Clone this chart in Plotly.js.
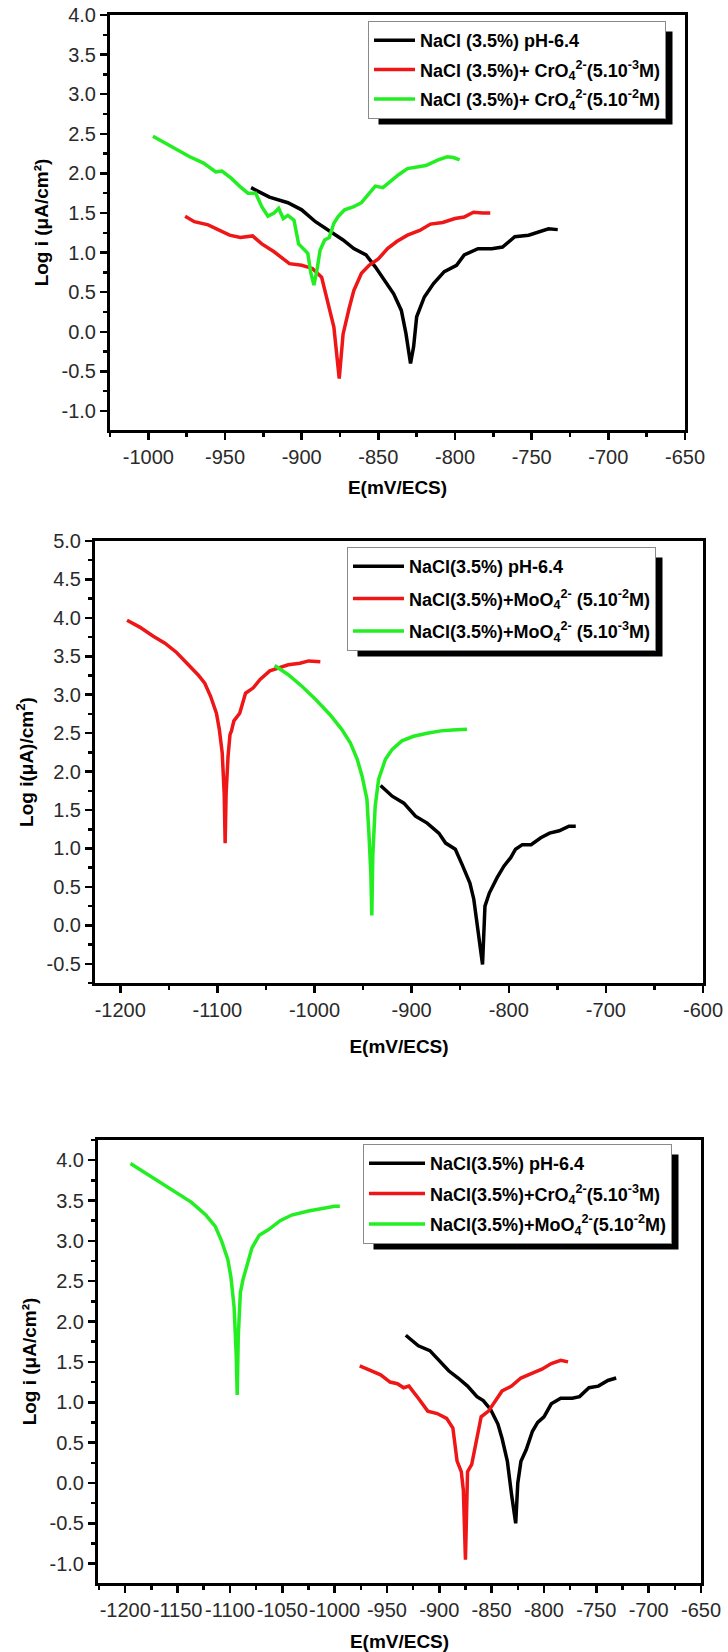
<!DOCTYPE html>
<html>
<head>
<meta charset="utf-8">
<script src="https://cdn.plot.ly/plotly-3.0.1.min.js"></script>
<style>
html,body{margin:0;padding:0;background:#fff;}
#chart{width:728px;height:1652px;}
</style>
</head>
<body>
<div id="chart"></div>
<script>
// ---------- DATA ----------
// Chart 1 : NaCl + chromate
const c1BlackE = [-933,-921,-909,-900,-891,-882,-873,-866,-858,-852,-846,-840,-835,-832,-829,-827,-825,-820,-814,-807,-799,-794,-785,-776,-769,-761,-752,-745,-739,-733];
const c1BlackL = [1.82,1.70,1.63,1.54,1.39,1.28,1.16,1.05,0.97,0.82,0.65,0.48,0.27,-0.02,-0.40,-0.19,0.19,0.44,0.61,0.76,0.84,0.97,1.05,1.05,1.07,1.20,1.22,1.26,1.30,1.29];
const c1RedE = [-976,-970,-961,-953,-947,-940,-932,-926,-918,-912,-908,-900,-893,-887,-882,-879,-875.5,-873,-869,-866,-861,-856,-850,-844,-838,-831,-823,-816,-808,-800,-794,-788,-782,-777];
const c1RedL = [1.46,1.39,1.35,1.28,1.22,1.19,1.21,1.11,1.01,0.92,0.86,0.84,0.80,0.69,0.31,0.06,-0.59,-0.03,0.30,0.52,0.74,0.84,0.92,1.05,1.14,1.22,1.28,1.36,1.38,1.43,1.45,1.51,1.50,1.50];
const c1GreenE = [-997,-989,-980,-973,-964,-956,-952,-946,-940,-935,-930,-926,-922,-918,-915,-912,-909,-905,-902,-899,-896,-894,-892,-890,-888,-885,-882,-879,-876,-872,-866,-861,-856,-852,-847,-843,-837,-831,-825,-819,-811,-805,-801,-797];
const c1GreenL = [2.47,2.38,2.29,2.21,2.13,2.02,2.03,1.94,1.83,1.75,1.75,1.58,1.46,1.50,1.56,1.43,1.47,1.41,1.11,1.05,0.99,0.74,0.59,0.78,1.03,1.16,1.19,1.37,1.46,1.54,1.58,1.63,1.75,1.84,1.82,1.89,1.98,2.06,2.08,2.10,2.17,2.21,2.20,2.17];

// Chart 2 : NaCl + molybdate
const c2BlackE = [-932,-920,-908,-896,-884,-872,-865,-855,-848,-840,-836,-832,-827,-824.5,-820,-812,-805,-798,-793,-786,-777,-767,-758,-748,-738,-731];
const c2BlackL = [1.82,1.68,1.59,1.42,1.33,1.20,1.07,0.99,0.79,0.55,0.34,-0.05,-0.51,0.25,0.42,0.62,0.77,0.88,0.99,1.05,1.05,1.14,1.20,1.23,1.29,1.29];
const c2RedE = [-1193,-1180,-1166,-1154,-1142,-1130,-1120,-1113,-1107,-1101,-1098,-1095,-1093,-1092,-1091,-1089,-1087,-1085.5,-1083,-1077,-1071,-1063,-1056,-1046,-1037,-1027,-1015,-1006,-994];
const c2RedL = [3.97,3.88,3.76,3.67,3.55,3.39,3.26,3.15,2.98,2.76,2.55,2.24,1.72,1.07,1.72,2.20,2.48,2.53,2.66,2.76,3.02,3.09,3.20,3.31,3.35,3.39,3.41,3.44,3.43];
const c2GreenE = [-1041,-1027,-1013,-999,-984,-972,-963,-956,-951,-946,-944,-942,-941,-940,-937.5,-934,-927,-920,-910,-898,-884,-870,-858,-843];
const c2GreenL = [3.38,3.26,3.11,2.94,2.74,2.55,2.37,2.16,1.94,1.64,1.20,0.68,0.13,0.90,1.55,1.90,2.16,2.29,2.40,2.46,2.50,2.53,2.54,2.55];

// Chart 3 : comparison
const c3BlackE = [-932,-920,-909,-900,-891,-882,-873,-864,-858,-851,-844,-840,-835,-831,-827,-825,-822,-817,-811,-806,-800,-793,-784,-773,-766,-757,-748,-739,-731];
const c3BlackL = [1.83,1.70,1.64,1.52,1.39,1.30,1.20,1.07,1.02,0.91,0.73,0.55,0.27,-0.14,-0.50,0.00,0.27,0.41,0.64,0.75,0.82,0.98,1.05,1.05,1.07,1.18,1.20,1.27,1.30];
const c3RedE = [-976,-965,-956,-947,-940,-934,-929,-920,-911,-902,-893,-887,-883,-879,-877,-875,-873,-869,-865.5,-860,-853,-847,-840,-831,-822,-811,-802,-793,-784,-777];
const c3RedL = [1.45,1.39,1.34,1.25,1.23,1.18,1.20,1.05,0.89,0.86,0.80,0.68,0.27,0.14,-0.09,-0.95,0.14,0.23,0.45,0.82,0.89,1.00,1.14,1.20,1.30,1.36,1.41,1.48,1.52,1.50];
const c3GreenE = [-1195,-1177,-1163,-1150,-1137,-1123,-1114,-1108,-1102,-1099,-1096,-1094,-1093,-1092,-1090,-1087.5,-1084,-1079,-1072,-1063,-1052,-1041,-1025,-1012,-1000,-995];
const c3GreenL = [3.96,3.81,3.70,3.59,3.48,3.32,3.18,3.00,2.77,2.55,2.18,1.59,1.09,1.82,2.36,2.52,2.68,2.91,3.07,3.14,3.25,3.32,3.37,3.40,3.43,3.43];

// Legend names
const c1Names = ['NaCl (3.5%) pH-6.4',
  'NaCl (3.5%)+ CrO<sub>4</sub><sup>2-</sup>(5.10<sup>-3</sup>M)',
  'NaCl (3.5%)+ CrO<sub>4</sub><sup>2-</sup>(5.10<sup>-2</sup>M)'];
const c2Names = ['NaCl(3.5%) pH-6.4',
  'NaCl(3.5%)+MoO<sub>4</sub><sup>2-</sup> (5.10<sup>-2</sup>M)',
  'NaCl(3.5%)+MoO<sub>4</sub><sup>2-</sup> (5.10<sup>-3</sup>M)'];
const c3Names = ['NaCl(3.5%) pH-6.4',
  'NaCl(3.5%)+CrO<sub>4</sub><sup>2-</sup>(5.10<sup>-3</sup>M)',
  'NaCl(3.5%)+MoO<sub>4</sub><sup>2-</sup>(5.10<sup>-2</sup>M)'];

// Axis titles
const xTitle = 'E(mV/ECS)';
const y1Title = 'Log i (μA/cm²)';
const y2Title = 'Log i(μA)/cm<sup>2</sup>)';
const y3Title = 'Log i (μA/cm²)';

// Tick labels
const x1Ticks = [-1000,-950,-900,-850,-800,-750,-700,-650];
const x1Labels = ['-1000','-950','-900','-850','-800','-750','-700','-650'];
const y1Ticks = [-1.0,-0.5,0.0,0.5,1.0,1.5,2.0,2.5,3.0,3.5,4.0];
const y1Labels = ['-1.0','-0.5','0.0','0.5','1.0','1.5','2.0','2.5','3.0','3.5','4.0'];
const x2Ticks = [-1200,-1100,-1000,-900,-800,-700,-600];
const x2Labels = ['-1200','-1100','-1000','-900','-800','-700','-600'];
const y2Ticks = [-0.5,0.0,0.5,1.0,1.5,2.0,2.5,3.0,3.5,4.0,4.5,5.0];
const y2Labels = ['-0.5','0.0','0.5','1.0','1.5','2.0','2.5','3.0','3.5','4.0','4.5','5.0'];
const x3Ticks = [-1200,-1150,-1100,-1050,-1000,-950,-900,-850,-800,-750,-700,-650];
const x3Labels = ['-1200','-1150','-1100','-1050','-1000','-950','-900','-850','-800','-750','-700','-650'];
const y3Ticks = [-1.0,-0.5,0.0,0.5,1.0,1.5,2.0,2.5,3.0,3.5,4.0];
const y3Labels = ['-1.0','-0.5','0.0','0.5','1.0','1.5','2.0','2.5','3.0','3.5','4.0'];

// ---------- STYLE ----------
const W = 728, H = 1652;
const BLACK = '#000000', RED = '#ee1616', GREEN = '#22ee22';
const FONT = 'Liberation Sans, Arial, sans-serif';

function tr(x, y, name, color, xa, ya, leg, grp) {
  return {x: x, y: y, name: name, type: 'scatter', mode: 'lines',
    line: {color: color, width: 3.5}, xaxis: xa, yaxis: ya,
    legend: leg, legendgroup: grp, showlegend: true, hoverinfo: 'skip'};
}

const data = [
  tr(c1BlackE, c1BlackL, c1Names[0], BLACK, 'x', 'y', 'legend', 'a1'),
  tr(c1RedE, c1RedL, c1Names[1], RED, 'x', 'y', 'legend', 'a2'),
  tr(c1GreenE, c1GreenL, c1Names[2], GREEN, 'x', 'y', 'legend', 'a3'),
  tr(c2BlackE, c2BlackL, c2Names[0], BLACK, 'x2', 'y2', 'legend2', 'b1'),
  tr(c2RedE, c2RedL, c2Names[1], RED, 'x2', 'y2', 'legend2', 'b2'),
  tr(c2GreenE, c2GreenL, c2Names[2], GREEN, 'x2', 'y2', 'legend2', 'b3'),
  tr(c3BlackE, c3BlackL, c3Names[0], BLACK, 'x3', 'y3', 'legend3', 'c1'),
  tr(c3RedE, c3RedL, c3Names[1], RED, 'x3', 'y3', 'legend3', 'c2'),
  tr(c3GreenE, c3GreenL, c3Names[2], GREEN, 'x3', 'y3', 'legend3', 'c3')
];

function px(a, b) { return [a / W, b / W]; }
function py(top, bottom) { return [1 - bottom / H, 1 - top / H]; }

function axis(opts) {
  return {
    domain: opts.domain, range: opts.range, anchor: opts.anchor,
    tickmode: 'array', tickvals: opts.tickvals, ticktext: opts.ticktext, tickangle: 0,
    ticks: 'outside', ticklen: 7, tickwidth: 2.5, tickcolor: BLACK,
    showline: true, linewidth: 3, linecolor: BLACK, mirror: true,
    showgrid: false, zeroline: false, fixedrange: true,
    tickfont: {family: FONT, size: 20, color: '#2a2a2a'},
    minor: {tickmode: 'linear', tick0: 0, dtick: opts.minor, ticklen: 4, tickwidth: 2.5, tickcolor: BLACK, ticks: 'outside', showgrid: false},
    title: {text: opts.title, font: {family: FONT, size: 19, color: BLACK, weight: 'bold'}, standoff: opts.standoff}
  };
}

function legendCfg(x, y, iw, gap) {
  return {x: x / W, y: 1 - y / H, xanchor: 'left', yanchor: 'top',
    bgcolor: '#ffffff', bordercolor: '#8a8a8a', borderwidth: 1,
    font: {family: FONT, size: 18, color: BLACK, weight: 'bold'},
    tracegroupgap: gap, itemwidth: iw, traceorder: 'grouped'};
}

const layout = {
  width: W, height: H,
  margin: {l: 0, r: 0, t: 0, b: 0},
  paper_bgcolor: '#ffffff', plot_bgcolor: '#ffffff',
  showlegend: true,
  xaxis: axis({domain: px(110, 685), range: [-1025, -650], anchor: 'y', tickvals: x1Ticks, ticktext: x1Labels, minor: 25, title: xTitle, standoff: 14}),
  yaxis: axis({domain: py(15, 430), range: [-1.24, 4.0], anchor: 'x', tickvals: y1Ticks, ticktext: y1Labels, minor: 0.25, title: y1Title, standoff: 8}),
  xaxis2: axis({domain: px(95, 703), range: [-1226, -600], anchor: 'y2', tickvals: x2Ticks, ticktext: x2Labels, minor: 50, title: xTitle, standoff: 20}),
  yaxis2: axis({domain: py(541, 983), range: [-0.75, 5.0], anchor: 'x2', tickvals: y2Ticks, ticktext: y2Labels, minor: 0.25, title: y2Title, standoff: 8}),
  xaxis3: axis({domain: px(98, 701), range: [-1226, -650], anchor: 'y3', tickvals: x3Ticks, ticktext: x3Labels, minor: 25, title: xTitle, standoff: 18}),
  yaxis3: axis({domain: py(1140, 1583), range: [-1.24, 4.25], anchor: 'x3', tickvals: y3Ticks, ticktext: y3Labels, minor: 0.25, title: y3Title, standoff: 8}),
  legend: legendCfg(368, 21, 41, 3),
  legend2: legendCfg(347, 547, 51, 6),
  legend3: legendCfg(363, 1144, 56, 4)
};

Plotly.newPlot('chart', data, layout, {staticPlot: true, displayModeBar: false}).then(function (gd) {
  // drop shadows behind the legend boxes (Origin style)
  const shapes = [];
  const gr = gd.getBoundingClientRect();
  ['legend', 'legend2', 'legend3'].forEach(function (id) {
    const g = gd.querySelector('.infolayer g.' + id);
    if (!g) return;
    const bg = g.querySelector('rect.bg');
    if (!bg) return;
    const r = bg.getBoundingClientRect();
    const l = r.left - gr.left, t = r.top - gr.top, rt = r.right - gr.left, b = r.bottom - gr.top;
    shapes.push({type: 'rect', xref: 'paper', yref: 'paper', layer: 'above',
      x0: (l + 10) / W, x1: (rt + 7) / W, y0: 1 - (b + 6) / H, y1: 1 - (t + 10) / H,
      fillcolor: BLACK, line: {width: 0}});
  });
  return Plotly.relayout(gd, {shapes: shapes});
});
</script>
</body>
</html>
